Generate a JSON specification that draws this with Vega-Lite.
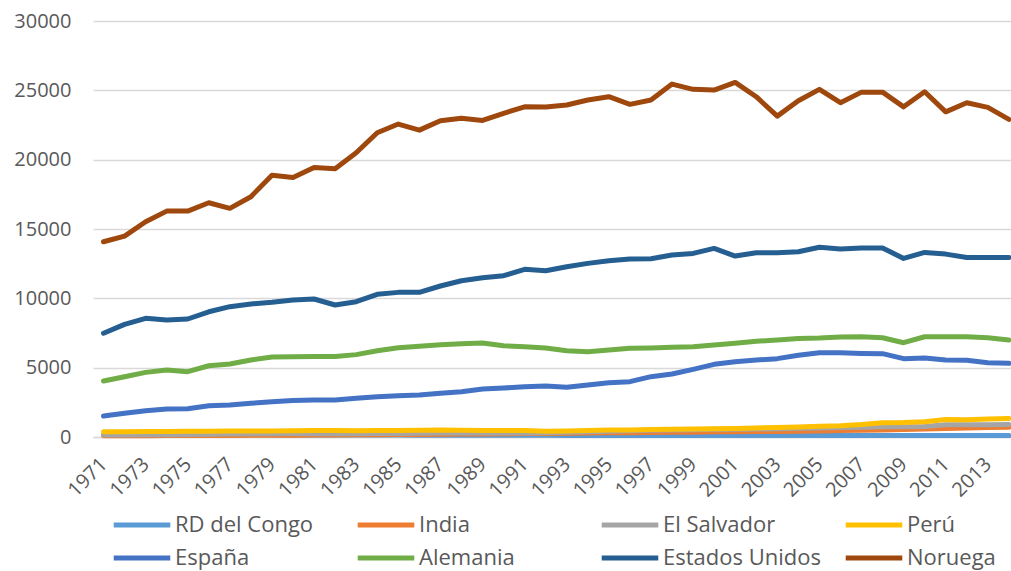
{
  "$schema": "https://vega.github.io/schema/vega-lite/v6.json",
  "width": 918,
  "height": 416,
  "autosize": "none",
  "padding": {"left": 93, "top": 21, "right": 0, "bottom": 134},
  "background": "white",
  "config": {
    "font": "Open Sans",
    "view": {"stroke": null},
    "legend": {
      "title": null,
      "orient": "none",
      "direction": "horizontal",
      "columns": 4,
      "gridAlign": "all",
      "symbolType": "stroke",
      "symbolSize": 3200,
      "symbolStrokeWidth": 5,
      "labelFontSize": 22,
      "labelColor": "#595959",
      "labelOffset": 2,
      "labelLimit": 300
    }
  },
  "data": {"values": [
{"year":1971,"country":"RD del Congo","value":140},{"year":1972,"country":"RD del Congo","value":145},{"year":1973,"country":"RD del Congo","value":150},{"year":1974,"country":"RD del Congo","value":155},{"year":1975,"country":"RD del Congo","value":160},{"year":1976,"country":"RD del Congo","value":160},{"year":1977,"country":"RD del Congo","value":160},{"year":1978,"country":"RD del Congo","value":160},{"year":1979,"country":"RD del Congo","value":155},{"year":1980,"country":"RD del Congo","value":150},
{"year":1981,"country":"RD del Congo","value":150},{"year":1982,"country":"RD del Congo","value":145},{"year":1983,"country":"RD del Congo","value":145},{"year":1984,"country":"RD del Congo","value":140},{"year":1985,"country":"RD del Congo","value":140},{"year":1986,"country":"RD del Congo","value":135},{"year":1987,"country":"RD del Congo","value":135},{"year":1988,"country":"RD del Congo","value":130},{"year":1989,"country":"RD del Congo","value":130},{"year":1990,"country":"RD del Congo","value":130},
{"year":1991,"country":"RD del Congo","value":125},{"year":1992,"country":"RD del Congo","value":120},{"year":1993,"country":"RD del Congo","value":115},{"year":1994,"country":"RD del Congo","value":110},{"year":1995,"country":"RD del Congo","value":110},{"year":1996,"country":"RD del Congo","value":110},{"year":1997,"country":"RD del Congo","value":105},{"year":1998,"country":"RD del Congo","value":105},{"year":1999,"country":"RD del Congo","value":105},{"year":2000,"country":"RD del Congo","value":100},
{"year":2001,"country":"RD del Congo","value":100},{"year":2002,"country":"RD del Congo","value":100},{"year":2003,"country":"RD del Congo","value":100},{"year":2004,"country":"RD del Congo","value":100},{"year":2005,"country":"RD del Congo","value":100},{"year":2006,"country":"RD del Congo","value":100},{"year":2007,"country":"RD del Congo","value":100},{"year":2008,"country":"RD del Congo","value":100},{"year":2009,"country":"RD del Congo","value":100},{"year":2010,"country":"RD del Congo","value":100},
{"year":2011,"country":"RD del Congo","value":100},{"year":2012,"country":"RD del Congo","value":100},{"year":2013,"country":"RD del Congo","value":100},{"year":2014,"country":"RD del Congo","value":100},

{"year":1971,"country":"India","value":90},{"year":1972,"country":"India","value":95},{"year":1973,"country":"India","value":95},{"year":1974,"country":"India","value":100},{"year":1975,"country":"India","value":105},{"year":1976,"country":"India","value":110},{"year":1977,"country":"India","value":115},{"year":1978,"country":"India","value":120},{"year":1979,"country":"India","value":125},{"year":1980,"country":"India","value":135},
{"year":1981,"country":"India","value":140},{"year":1982,"country":"India","value":150},{"year":1983,"country":"India","value":155},{"year":1984,"country":"India","value":165},{"year":1985,"country":"India","value":175},{"year":1986,"country":"India","value":185},{"year":1987,"country":"India","value":195},{"year":1988,"country":"India","value":210},{"year":1989,"country":"India","value":225},{"year":1990,"country":"India","value":240},
{"year":1991,"country":"India","value":250},{"year":1992,"country":"India","value":260},{"year":1993,"country":"India","value":270},{"year":1994,"country":"India","value":280},{"year":1995,"country":"India","value":300},{"year":1996,"country":"India","value":310},{"year":1997,"country":"India","value":320},{"year":1998,"country":"India","value":340},{"year":1999,"country":"India","value":350},{"year":2000,"country":"India","value":370},
{"year":2001,"country":"India","value":380},{"year":2002,"country":"India","value":390},{"year":2003,"country":"India","value":400},{"year":2004,"country":"India","value":420},{"year":2005,"country":"India","value":440},{"year":2006,"country":"India","value":460},{"year":2007,"country":"India","value":490},{"year":2008,"country":"India","value":510},{"year":2009,"country":"India","value":540},{"year":2010,"country":"India","value":580},
{"year":2011,"country":"India","value":620},{"year":2012,"country":"India","value":650},{"year":2013,"country":"India","value":680},{"year":2014,"country":"India","value":710},

{"year":1971,"country":"El Salvador","value":140},{"year":1972,"country":"El Salvador","value":150},{"year":1973,"country":"El Salvador","value":160},{"year":1974,"country":"El Salvador","value":170},{"year":1975,"country":"El Salvador","value":180},{"year":1976,"country":"El Salvador","value":200},{"year":1977,"country":"El Salvador","value":210},{"year":1978,"country":"El Salvador","value":230},{"year":1979,"country":"El Salvador","value":240},{"year":1980,"country":"El Salvador","value":250},
{"year":1981,"country":"El Salvador","value":240},{"year":1982,"country":"El Salvador","value":230},{"year":1983,"country":"El Salvador","value":240},{"year":1984,"country":"El Salvador","value":250},{"year":1985,"country":"El Salvador","value":260},{"year":1986,"country":"El Salvador","value":270},{"year":1987,"country":"El Salvador","value":280},{"year":1988,"country":"El Salvador","value":280},{"year":1989,"country":"El Salvador","value":280},{"year":1990,"country":"El Salvador","value":280},
{"year":1991,"country":"El Salvador","value":290},{"year":1992,"country":"El Salvador","value":300},{"year":1993,"country":"El Salvador","value":340},{"year":1994,"country":"El Salvador","value":380},{"year":1995,"country":"El Salvador","value":420},{"year":1996,"country":"El Salvador","value":450},{"year":1997,"country":"El Salvador","value":480},{"year":1998,"country":"El Salvador","value":500},{"year":1999,"country":"El Salvador","value":530},{"year":2000,"country":"El Salvador","value":550},
{"year":2001,"country":"El Salvador","value":560},{"year":2002,"country":"El Salvador","value":580},{"year":2003,"country":"El Salvador","value":600},{"year":2004,"country":"El Salvador","value":630},{"year":2005,"country":"El Salvador","value":650},{"year":2006,"country":"El Salvador","value":680},{"year":2007,"country":"El Salvador","value":710},{"year":2008,"country":"El Salvador","value":740},{"year":2009,"country":"El Salvador","value":740},{"year":2010,"country":"El Salvador","value":760},
{"year":2011,"country":"El Salvador","value":880},{"year":2012,"country":"El Salvador","value":880},{"year":2013,"country":"El Salvador","value":890},{"year":2014,"country":"El Salvador","value":900},

{"year":1971,"country":"Perú","value":370},{"year":1972,"country":"Perú","value":380},{"year":1973,"country":"Perú","value":390},{"year":1974,"country":"Perú","value":400},{"year":1975,"country":"Perú","value":410},{"year":1976,"country":"Perú","value":420},{"year":1977,"country":"Perú","value":430},{"year":1978,"country":"Perú","value":430},{"year":1979,"country":"Perú","value":440},{"year":1980,"country":"Perú","value":450},
{"year":1981,"country":"Perú","value":460},{"year":1982,"country":"Perú","value":470},{"year":1983,"country":"Perú","value":450},{"year":1984,"country":"Perú","value":470},{"year":1985,"country":"Perú","value":470},{"year":1986,"country":"Perú","value":490},{"year":1987,"country":"Perú","value":510},{"year":1988,"country":"Perú","value":490},{"year":1989,"country":"Perú","value":470},{"year":1990,"country":"Perú","value":460},
{"year":1991,"country":"Perú","value":470},{"year":1992,"country":"Perú","value":420},{"year":1993,"country":"Perú","value":440},{"year":1994,"country":"Perú","value":460},{"year":1995,"country":"Perú","value":500},{"year":1996,"country":"Perú","value":510},{"year":1997,"country":"Perú","value":540},{"year":1998,"country":"Perú","value":560},{"year":1999,"country":"Perú","value":580},{"year":2000,"country":"Perú","value":600},
{"year":2001,"country":"Perú","value":620},{"year":2002,"country":"Perú","value":650},{"year":2003,"country":"Perú","value":680},{"year":2004,"country":"Perú","value":720},{"year":2005,"country":"Perú","value":780},{"year":2006,"country":"Perú","value":820},{"year":2007,"country":"Perú","value":900},{"year":2008,"country":"Perú","value":1020},{"year":2009,"country":"Perú","value":1040},{"year":2010,"country":"Perú","value":1100},
{"year":2011,"country":"Perú","value":1260},{"year":2012,"country":"Perú","value":1250},{"year":2013,"country":"Perú","value":1300},{"year":2014,"country":"Perú","value":1340},

{"year":1971,"country":"España","value":1510},{"year":1972,"country":"España","value":1710},{"year":1973,"country":"España","value":1900},{"year":1974,"country":"España","value":2020},{"year":1975,"country":"España","value":2040},{"year":1976,"country":"España","value":2260},{"year":1977,"country":"España","value":2310},{"year":1978,"country":"España","value":2430},{"year":1979,"country":"España","value":2550},{"year":1980,"country":"España","value":2640},
{"year":1981,"country":"España","value":2670},{"year":1982,"country":"España","value":2670},{"year":1983,"country":"España","value":2790},{"year":1984,"country":"España","value":2910},{"year":1985,"country":"España","value":2980},{"year":1986,"country":"España","value":3030},{"year":1987,"country":"España","value":3150},{"year":1988,"country":"España","value":3270},{"year":1989,"country":"España","value":3460},{"year":1990,"country":"España","value":3530},
{"year":1991,"country":"España","value":3630},{"year":1992,"country":"España","value":3680},{"year":1993,"country":"España","value":3580},{"year":1994,"country":"España","value":3750},{"year":1995,"country":"España","value":3920},{"year":1996,"country":"España","value":3990},{"year":1997,"country":"España","value":4350},{"year":1998,"country":"España","value":4540},{"year":1999,"country":"España","value":4880},{"year":2000,"country":"España","value":5240},
{"year":2001,"country":"España","value":5430},{"year":2002,"country":"España","value":5550},{"year":2003,"country":"España","value":5650},{"year":2004,"country":"España","value":5890},{"year":2005,"country":"España","value":6080},{"year":2006,"country":"España","value":6080},{"year":2007,"country":"España","value":6030},{"year":2008,"country":"España","value":6010},{"year":2009,"country":"España","value":5650},{"year":2010,"country":"España","value":5690},
{"year":2011,"country":"España","value":5550},{"year":2012,"country":"España","value":5530},{"year":2013,"country":"España","value":5360},{"year":2014,"country":"España","value":5310},

{"year":1971,"country":"Alemania","value":4040},{"year":1972,"country":"Alemania","value":4350},{"year":1973,"country":"Alemania","value":4660},{"year":1974,"country":"Alemania","value":4830},{"year":1975,"country":"Alemania","value":4710},{"year":1976,"country":"Alemania","value":5140},{"year":1977,"country":"Alemania","value":5260},{"year":1978,"country":"Alemania","value":5550},{"year":1979,"country":"Alemania","value":5770},{"year":1980,"country":"Alemania","value":5790},
{"year":1981,"country":"Alemania","value":5810},{"year":1982,"country":"Alemania","value":5800},{"year":1983,"country":"Alemania","value":5940},{"year":1984,"country":"Alemania","value":6220},{"year":1985,"country":"Alemania","value":6440},{"year":1986,"country":"Alemania","value":6540},{"year":1987,"country":"Alemania","value":6650},{"year":1988,"country":"Alemania","value":6730},{"year":1989,"country":"Alemania","value":6780},{"year":1990,"country":"Alemania","value":6580},
{"year":1991,"country":"Alemania","value":6510},{"year":1992,"country":"Alemania","value":6420},{"year":1993,"country":"Alemania","value":6220},{"year":1994,"country":"Alemania","value":6150},{"year":1995,"country":"Alemania","value":6270},{"year":1996,"country":"Alemania","value":6400},{"year":1997,"country":"Alemania","value":6420},{"year":1998,"country":"Alemania","value":6470},{"year":1999,"country":"Alemania","value":6510},{"year":2000,"country":"Alemania","value":6630},
{"year":2001,"country":"Alemania","value":6760},{"year":2002,"country":"Alemania","value":6900},{"year":2003,"country":"Alemania","value":6990},{"year":2004,"country":"Alemania","value":7110},{"year":2005,"country":"Alemania","value":7140},{"year":2006,"country":"Alemania","value":7210},{"year":2007,"country":"Alemania","value":7230},{"year":2008,"country":"Alemania","value":7160},{"year":2009,"country":"Alemania","value":6800},{"year":2010,"country":"Alemania","value":7230},
{"year":2011,"country":"Alemania","value":7230},{"year":2012,"country":"Alemania","value":7230},{"year":2013,"country":"Alemania","value":7160},{"year":2014,"country":"Alemania","value":6990},

{"year":1971,"country":"Estados Unidos","value":7480},{"year":1972,"country":"Estados Unidos","value":8120},{"year":1973,"country":"Estados Unidos","value":8560},{"year":1974,"country":"Estados Unidos","value":8440},{"year":1975,"country":"Estados Unidos","value":8510},{"year":1976,"country":"Estados Unidos","value":9030},{"year":1977,"country":"Estados Unidos","value":9400},{"year":1978,"country":"Estados Unidos","value":9590},{"year":1979,"country":"Estados Unidos","value":9710},{"year":1980,"country":"Estados Unidos","value":9880},
{"year":1981,"country":"Estados Unidos","value":9950},{"year":1982,"country":"Estados Unidos","value":9520},{"year":1983,"country":"Estados Unidos","value":9760},{"year":1984,"country":"Estados Unidos","value":10290},{"year":1985,"country":"Estados Unidos","value":10430},{"year":1986,"country":"Estados Unidos","value":10430},{"year":1987,"country":"Estados Unidos","value":10890},{"year":1988,"country":"Estados Unidos","value":11270},{"year":1989,"country":"Estados Unidos","value":11490},{"year":1990,"country":"Estados Unidos","value":11630},
{"year":1991,"country":"Estados Unidos","value":12090},{"year":1992,"country":"Estados Unidos","value":11990},{"year":1993,"country":"Estados Unidos","value":12280},{"year":1994,"country":"Estados Unidos","value":12520},{"year":1995,"country":"Estados Unidos","value":12710},{"year":1996,"country":"Estados Unidos","value":12830},{"year":1997,"country":"Estados Unidos","value":12860},{"year":1998,"country":"Estados Unidos","value":13120},{"year":1999,"country":"Estados Unidos","value":13240},{"year":2000,"country":"Estados Unidos","value":13600},
{"year":2001,"country":"Estados Unidos","value":13050},{"year":2002,"country":"Estados Unidos","value":13290},{"year":2003,"country":"Estados Unidos","value":13290},{"year":2004,"country":"Estados Unidos","value":13360},{"year":2005,"country":"Estados Unidos","value":13680},{"year":2006,"country":"Estados Unidos","value":13560},{"year":2007,"country":"Estados Unidos","value":13630},{"year":2008,"country":"Estados Unidos","value":13630},{"year":2009,"country":"Estados Unidos","value":12880},{"year":2010,"country":"Estados Unidos","value":13310},
{"year":2011,"country":"Estados Unidos","value":13190},{"year":2012,"country":"Estados Unidos","value":12950},{"year":2013,"country":"Estados Unidos","value":12950},{"year":2014,"country":"Estados Unidos","value":12950},

{"year":1971,"country":"Noruega","value":14080},{"year":1972,"country":"Noruega","value":14490},{"year":1973,"country":"Noruega","value":15520},{"year":1974,"country":"Noruega","value":16290},{"year":1975,"country":"Noruega","value":16290},{"year":1976,"country":"Noruega","value":16890},{"year":1977,"country":"Noruega","value":16490},{"year":1978,"country":"Noruega","value":17330},{"year":1979,"country":"Noruega","value":18870},{"year":1980,"country":"Noruega","value":18720},
{"year":1981,"country":"Noruega","value":19440},{"year":1982,"country":"Noruega","value":19350},{"year":1983,"country":"Noruega","value":20500},{"year":1984,"country":"Noruega","value":21940},{"year":1985,"country":"Noruega","value":22570},{"year":1986,"country":"Noruega","value":22130},{"year":1987,"country":"Noruega","value":22810},{"year":1988,"country":"Noruega","value":22980},{"year":1989,"country":"Noruega","value":22830},{"year":1990,"country":"Noruega","value":23340},
{"year":1991,"country":"Noruega","value":23810},{"year":1992,"country":"Noruega","value":23790},{"year":1993,"country":"Noruega","value":23940},{"year":1994,"country":"Noruega","value":24300},{"year":1995,"country":"Noruega","value":24540},{"year":1996,"country":"Noruega","value":23990},{"year":1997,"country":"Noruega","value":24300},{"year":1998,"country":"Noruega","value":25450},{"year":1999,"country":"Noruega","value":25070},{"year":2000,"country":"Noruega","value":25020},
{"year":2001,"country":"Noruega","value":25570},{"year":2002,"country":"Noruega","value":24540},{"year":2003,"country":"Noruega","value":23140},{"year":2004,"country":"Noruega","value":24250},{"year":2005,"country":"Noruega","value":25070},{"year":2006,"country":"Noruega","value":24110},{"year":2007,"country":"Noruega","value":24870},{"year":2008,"country":"Noruega","value":24870},{"year":2009,"country":"Noruega","value":23810},{"year":2010,"country":"Noruega","value":24900},
{"year":2011,"country":"Noruega","value":23450},{"year":2012,"country":"Noruega","value":24100},{"year":2013,"country":"Noruega","value":23770},{"year":2014,"country":"Noruega","value":22900}
  ]},
  "encoding": {
    "x": {
      "field": "year",
      "type": "quantitative",
      "scale": {"domain": [1970.5, 2014.1], "nice": false, "zero": false},
      "axis": {
        "title": null,
        "values": [1971,1973,1975,1977,1979,1981,1983,1985,1987,1989,1991,1993,1995,1997,1999,2001,2003,2005,2007,2009,2011,2013],
        "format": "d",
        "labelAngle": -45,
        "labelAlign": "right",
        "labelBaseline": "middle",
        "labelFontSize": 20,
        "labelColor": "#595959",
        "labelPadding": 24,
        "labelDx": 0,
        "labelDy": 5,
        "grid": false,
        "ticks": false,
        "domain": true,
        "domainColor": "#d9d9d9",
        "domainWidth": 1.5,
        "labelOverlap": false,
        "labelBound": false,
        "labelFlush": false
      }
    },
    "y": {
      "field": "value",
      "type": "quantitative",
      "scale": {"domain": [0, 30000], "nice": false},
      "axis": {
        "title": null,
        "values": [0, 5000, 10000, 15000, 20000, 25000, 30000],
        "format": "d",
        "labelFontSize": 20,
        "labelColor": "#595959",
        "labelPadding": 22,
        "grid": true,
        "gridColor": "#d9d9d9",
        "gridWidth": 1.5,
        "ticks": false,
        "domain": false
      }
    }
  },
  "layer": [
    {
      "transform": [{"filter": {"field": "country", "oneOf": ["RD del Congo", "India", "El Salvador", "Perú"]}}],
      "mark": {"type": "line", "strokeWidth": 5, "strokeCap": "round", "strokeJoin": "round", "clip": false},
      "encoding": {
        "color": {
          "field": "country",
          "type": "nominal",
          "sort": ["RD del Congo", "India", "El Salvador", "Perú"],
          "scale": {
            "domain": ["RD del Congo", "India", "El Salvador", "Perú"],
            "range": ["#5B9BD5", "#ED7D31", "#A5A5A5", "#FFC000"]
          },
          "legend": {"legendX": 18, "legendY": 473, "columnPadding": 33}
        }
      }
    },
    {
      "transform": [{"filter": {"field": "country", "oneOf": ["España", "Alemania", "Estados Unidos", "Noruega"]}}],
      "mark": {"type": "line", "strokeWidth": 5, "strokeCap": "round", "strokeJoin": "round", "clip": false},
      "encoding": {
        "stroke": {
          "field": "country",
          "type": "nominal",
          "sort": ["España", "Alemania", "Estados Unidos", "Noruega"],
          "scale": {
            "domain": ["España", "Alemania", "Estados Unidos", "Noruega"],
            "range": ["#4472C4", "#70AD47", "#255E91", "#9E480E"]
          },
          "legend": {"legendX": 18, "legendY": 506, "columnPadding": 14}
        }
      }
    }
  ]
}
